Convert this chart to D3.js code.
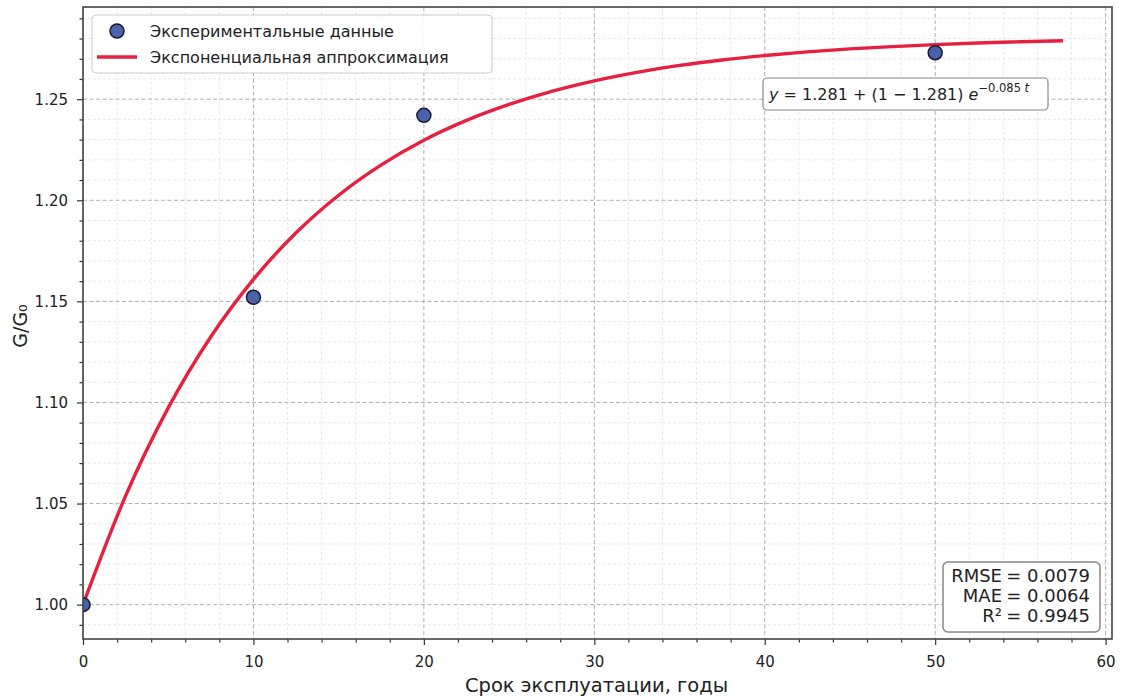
<!DOCTYPE html>
<html><head><meta charset="utf-8">
<script src="https://cdn.jsdelivr.net/npm/d3@7"></script>
<style>body{margin:0;background:#fff}svg{display:block;font-family:"DejaVu Sans",sans-serif}</style>
</head><body><svg id="c" width="1124" height="696"></svg>
<script>
const expT = [0, 10, 20, 50];
const expY = [1.000, 1.152, 1.242, 1.273];
const fitT = [0,2.5,5,7.5,10,12.5,15,17.5,20,22.5,25,27.5,30,32.5,35,37.5,40,42.5,45,47.5,50,52.5,55,57.5];
const fitY = [1.000,1.0538,1.0973,1.1325,1.1609,1.1839,1.2025,1.2175,1.2297,1.2395,1.2474,1.2539,1.2591,1.2633,1.2667,1.2694,1.2716,1.2734,1.2749,1.2760,1.2770,1.2778,1.2784,1.2789];
const xTicks = [0,10,20,30,40,50,60];
const yTicks = [1.00,1.05,1.10,1.15,1.20,1.25];
const statNames = ["RMSE","MAE","R²"];
const statValues = ["= 0.0079","= 0.0064","= 0.9945"];
const legendLabels = ["Экспериментальные данные","Экспоненциальная аппроксимация"];

const svg = d3.select("#c");
const L=83, R=1112, T=7, B=639;
const x = d3.scaleLinear().domain([0,60.375]).range([L,R]);
const y = d3.scaleLinear().domain([0.983,1.2956]).range([B,T]);

const xMinor = d3.range(0,61,2).filter(v=>v%10!==0);
const yMinor = d3.range(0,32).map(i=>+(0.99+i*0.01).toFixed(2)).filter(v=>v>0.983 && v<1.2956 && Math.round(v*100)%5!==0);
const g = svg.append("g");
g.selectAll(".xm").data(xMinor).join("line").attr("x1",d=>x(d)).attr("x2",d=>x(d)).attr("y1",T).attr("y2",B)
 .attr("stroke","#e2e2e2").attr("stroke-width",0.8).attr("stroke-dasharray","3,2");
g.selectAll(".ym").data(yMinor).join("line").attr("y1",d=>y(d)).attr("y2",d=>y(d)).attr("x1",L).attr("x2",R)
 .attr("stroke","#e2e2e2").attr("stroke-width",0.8).attr("stroke-dasharray","3,2");
g.selectAll(".xM").data(xTicks).join("line").attr("x1",d=>x(d)).attr("x2",d=>x(d)).attr("y1",T).attr("y2",B)
 .attr("stroke","#b0b0b0").attr("stroke-width",1).attr("stroke-dasharray","4,2.5");
g.selectAll(".yM").data(yTicks).join("line").attr("y1",d=>y(d)).attr("y2",d=>y(d)).attr("x1",L).attr("x2",R)
 .attr("stroke","#b0b0b0").attr("stroke-width",1).attr("stroke-dasharray","4,2.5");

const xAxis = d3.axisBottom(x).tickValues(xTicks).tickFormat(d3.format("d")).tickSize(6).tickPadding(11);
const xAxisMinor = d3.axisBottom(x).tickValues(xMinor).tickFormat("").tickSize(3.5);
const yAxis = d3.axisLeft(y).tickValues(yTicks).tickFormat(d3.format(".2f")).tickSize(6).tickPadding(9);
const yAxisMinor = d3.axisLeft(y).tickValues(yMinor).tickFormat("").tickSize(3.5);
function style(sel){sel.select(".domain").remove();sel.selectAll("line").attr("stroke","#333").attr("stroke-width",1.2);
 sel.selectAll("text").attr("fill","#222").style("font-size","15px").style("font-family","DejaVu Sans");}
svg.append("g").attr("transform",`translate(0,${B})`).call(xAxis).call(style);
svg.append("g").attr("transform",`translate(0,${B})`).call(xAxisMinor).call(style);
svg.append("g").attr("transform",`translate(${L},0)`).call(yAxis).call(style);
svg.append("g").attr("transform",`translate(${L},0)`).call(yAxisMinor).call(style);

const line = d3.line().x((d,i)=>x(fitT[i])).y(d=>y(d)).curve(d3.curveMonotoneX);
svg.append("clipPath").attr("id","cp").append("rect").attr("x",L).attr("y",T).attr("width",R-L).attr("height",B-T);
svg.append("path").datum(fitY).attr("d",line).attr("fill","none").attr("stroke","#e8203f").attr("stroke-width",3.4).attr("clip-path","url(#cp)");

svg.append("g").attr("clip-path","url(#cp)").selectAll("circle").data(expY).join("circle")
 .attr("cx",(d,i)=>x(expT[i])).attr("cy",d=>y(d)).attr("r",7)
 .attr("fill","#4a62ac").attr("stroke","#1a1a2a").attr("stroke-width",1.5);

svg.append("rect").attr("x",L).attr("y",T).attr("width",R-L).attr("height",B-T).attr("fill","none").attr("stroke","#444").attr("stroke-width",1.6);

svg.append("text").attr("x",(L+R)/2-1).attr("y",692).attr("text-anchor","middle").style("font-size","19.5px").attr("fill","#222").text("Срок эксплуатации, годы");
svg.append("text").attr("transform",`translate(27,${(T+B)/2+3}) rotate(-90)`).attr("text-anchor","middle").style("font-size","19px").attr("fill","#222").text("G/G₀");

const lg = svg.append("g");
lg.append("rect").attr("x",92).attr("y",15).attr("width",400).attr("height",58).attr("rx",4)
 .attr("fill","#fff").attr("fill-opacity",0.85).attr("stroke","#ccc").attr("stroke-width",1);
lg.append("circle").attr("cx",117).attr("cy",31).attr("r",7).attr("fill","#4a62ac").attr("stroke","#1a1a2a").attr("stroke-width",1.5);
lg.append("line").attr("x1",97).attr("x2",137).attr("y1",57).attr("y2",57).attr("stroke","#e8203f").attr("stroke-width",3.4);
lg.selectAll("text").data(legendLabels).join("text").attr("x",150).attr("y",(d,i)=>37+i*26)
 .style("font-size","16px").attr("fill","#222").text(d=>d);

const eq = svg.append("g");
eq.append("rect").attr("x",763).attr("y",78).attr("width",285).attr("height",32).attr("rx",4)
 .attr("fill","#fff").attr("stroke","#888").attr("stroke-width",1.2);
const et = eq.append("text").attr("x",769).attr("y",100).style("font-size","16px").attr("fill","#222");
et.append("tspan").style("font-style","italic").text("y");
et.append("tspan").text(" = 1.281 + (1 − 1.281) ");
et.append("tspan").style("font-style","italic").text("e");
et.append("tspan").attr("dy",-8).style("font-size","11.5px").text("−0.085");
et.append("tspan").style("font-size","11.5px").style("font-style","italic").text(" t");

const sb = svg.append("g");
sb.append("rect").attr("x",943).attr("y",562).attr("width",157).attr("height",70).attr("rx",5)
 .attr("fill","#fff").attr("stroke","#888").attr("stroke-width",1.5);
sb.selectAll(".a").data(statNames).join("text").attr("x",1002).attr("y",(d,i)=>582+i*20).attr("text-anchor","end")
 .style("font-size","18px").attr("fill","#222").text(d=>d);
sb.selectAll(".b").data(statValues).join("text").attr("x",1090).attr("y",(d,i)=>582+i*20).attr("text-anchor","end")
 .style("font-size","18px").attr("fill","#222").text(d=>d);
</script></body></html>
